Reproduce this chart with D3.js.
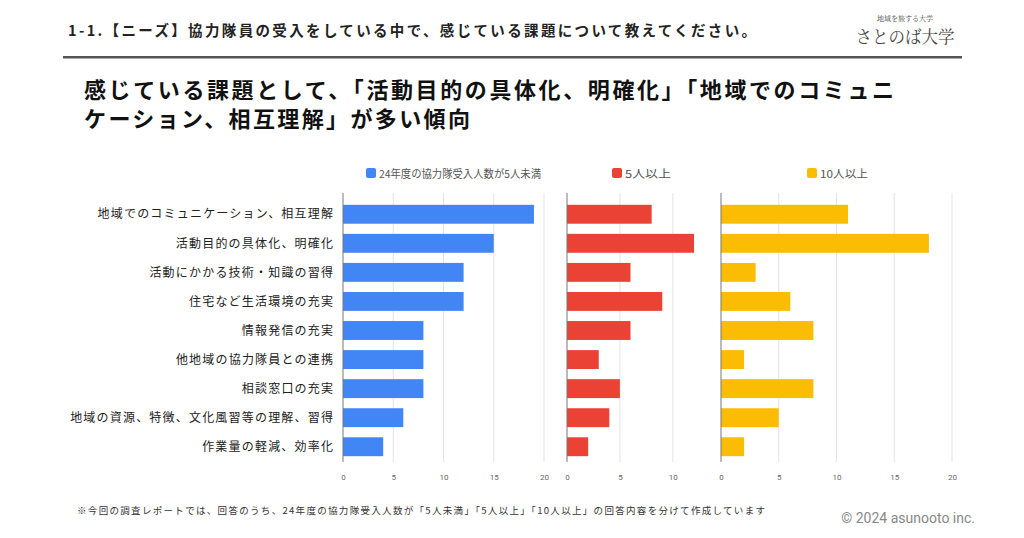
<!DOCTYPE html>
<html><head><meta charset="utf-8">
<script src="https://cdn.jsdelivr.net/npm/d3@7"></script>
<style>
body{margin:0;background:#fff;}
svg{display:block;font-family:"Noto Sans CJK JP","Noto Sans",sans-serif;}
</style></head>
<body>
<svg id="c" width="1024" height="538"></svg>
<script>
const categories = [
  "地域でのコミュニケーション、相互理解",
  "活動目的の具体化、明確化",
  "活動にかかる技術・知識の習得",
  "住宅など生活環境の充実",
  "情報発信の充実",
  "他地域の協力隊員との連携",
  "相談窓口の充実",
  "地域の資源、特徴、文化風習等の理解、習得",
  "作業量の軽減、効率化"
];
const seriesNames = ["24年度の協力隊受入人数が5人未満", "5人以上", "10人以上"];
const under5 = [19, 15, 12, 12, 8, 8, 8, 6, 4];
const over5  = [8, 12, 6, 9, 6, 3, 5, 4, 2];
const over10 = [11, 18, 3, 6, 8, 2, 8, 5, 2];
const ticks1 = [0, 5, 10, 15, 20];
const ticks2 = [0, 5, 10];
const ticks3 = [0, 5, 10, 15, 20];
const colors = ["#4285F4", "#EA4335", "#FBBC04"];

const svg = d3.select("#c");
const serif = "'Noto Serif CJK JP','Noto Sans CJK JP',serif";

// header
svg.append("text").attr("x", 68).attr("y", 36).attr("font-size", 14.5).attr("font-weight", 700)
  .attr("fill", "#222").attr("textLength", 688).attr("lengthAdjust", "spacing")
  .text("1-1.【ニーズ】協力隊員の受入をしている中で、感じている課題について教えてください。");
svg.append("text").attr("x", 905).attr("y", 21).attr("text-anchor", "middle").attr("font-size", 7)
  .attr("fill", "#444").attr("font-family", serif).text("地域を旅する大学");
svg.append("text").attr("x", 905).attr("y", 43).attr("text-anchor", "middle").attr("font-size", 16.5)
  .attr("fill", "#444").attr("font-family", serif).text("さとのば大学");
svg.append("rect").attr("x", 63).attr("y", 56).attr("width", 899).attr("height", 2.5).attr("fill", "#555");

// title
svg.append("text").attr("x", 84).attr("y", 98).attr("font-size", 22).attr("font-weight", 700)
  .attr("fill", "#111").attr("textLength", 810).attr("lengthAdjust", "spacing")
  .text("感じている課題として、「活動目的の具体化、明確化」「地域でのコミュニ");
svg.append("text").attr("x", 84).attr("y", 127).attr("font-size", 22).attr("font-weight", 700)
  .attr("fill", "#111").attr("textLength", 386).attr("lengthAdjust", "spacing")
  .text("ケーション、相互理解」が多い傾向");

// legend
const legendX = [366, 612, 807];
const legendLen = [162, 46, 48];
seriesNames.forEach((n, i) => {
  svg.append("rect").attr("x", legendX[i]).attr("y", 168).attr("width", 10).attr("height", 10)
    .attr("rx", 2).attr("fill", colors[i]);
  svg.append("text").attr("x", legendX[i] + 13).attr("y", 177.5).attr("font-size", 11)
    .attr("fill", "#555").attr("textLength", legendLen[i]).attr("lengthAdjust", "spacingAndGlyphs").text(n);
});

const plotTop = 199, plotBottom = 462;
const y = d3.scaleBand().domain(categories).range([plotTop, plotBottom]).paddingInner(0.35).paddingOuter(0.2);

function panel(values, domainMax, x0, x1, ticks, color) {
  const x = d3.scaleLinear().domain([0, domainMax]).range([x0, x1]);
  const g = svg.append("g");
  g.selectAll("line.grid").data(ticks.filter(t => t > 0)).enter().append("line")
    .attr("x1", d => x(d)).attr("x2", d => x(d)).attr("y1", 193).attr("y2", plotBottom)
    .attr("stroke", "#e3e3e3").attr("stroke-width", 1);
  g.selectAll("rect.bar").data(values).enter().append("rect")
    .attr("x", x(0)).attr("y", (d, i) => y(categories[i]))
    .attr("width", d => x(d) - x(0)).attr("height", y.bandwidth()).attr("fill", color);
  g.append("line").attr("x1", x(0)).attr("x2", x(0)).attr("y1", 193).attr("y2", plotBottom)
    .attr("stroke", "#777").attr("stroke-width", 1);
  const ax = d3.axisBottom(x).tickValues(ticks).tickSize(0).tickPadding(0);
  const a = g.append("g").attr("transform", `translate(0,${plotBottom + 12})`).call(ax);
  a.select(".domain").remove();
  a.selectAll("text").attr("font-size", 8).attr("fill", "#666")
    .attr("font-family", "Roboto, 'Noto Sans', sans-serif");
}
panel(under5, 20, 343, 544, ticks1, colors[0]);
panel(over5, 12, 567, 694, ticks2, colors[1]);
panel(over10, 20, 721, 952, ticks3, colors[2]);

// category labels
svg.append("g").selectAll("text").data(categories).enter().append("text")
  .attr("x", 334.2).attr("y", d => y(d) + y.bandwidth() / 2).attr("dy", "0.35em")
  .attr("letter-spacing", 1.2)
  .attr("text-anchor", "end").attr("font-size", 12).attr("fill", "#222").text(d => d);

// footer
svg.append("text").attr("x", 77).attr("y", 514).attr("font-size", 9.5).attr("fill", "#333")
  .attr("textLength", 688).attr("lengthAdjust", "spacing")
  .text("※今回の調査レポートでは、回答のうち、24年度の協力隊受入人数が「5人未満」「5人以上」「10人以上」の回答内容を分けて作成しています");
svg.append("text").attr("x", 975).attr("y", 523).attr("text-anchor", "end").attr("font-size", 14)
  .attr("fill", "#888").attr("font-family", "Roboto, 'Noto Sans', sans-serif").text("© 2024 asunooto inc.");
</script>
</body></html>
